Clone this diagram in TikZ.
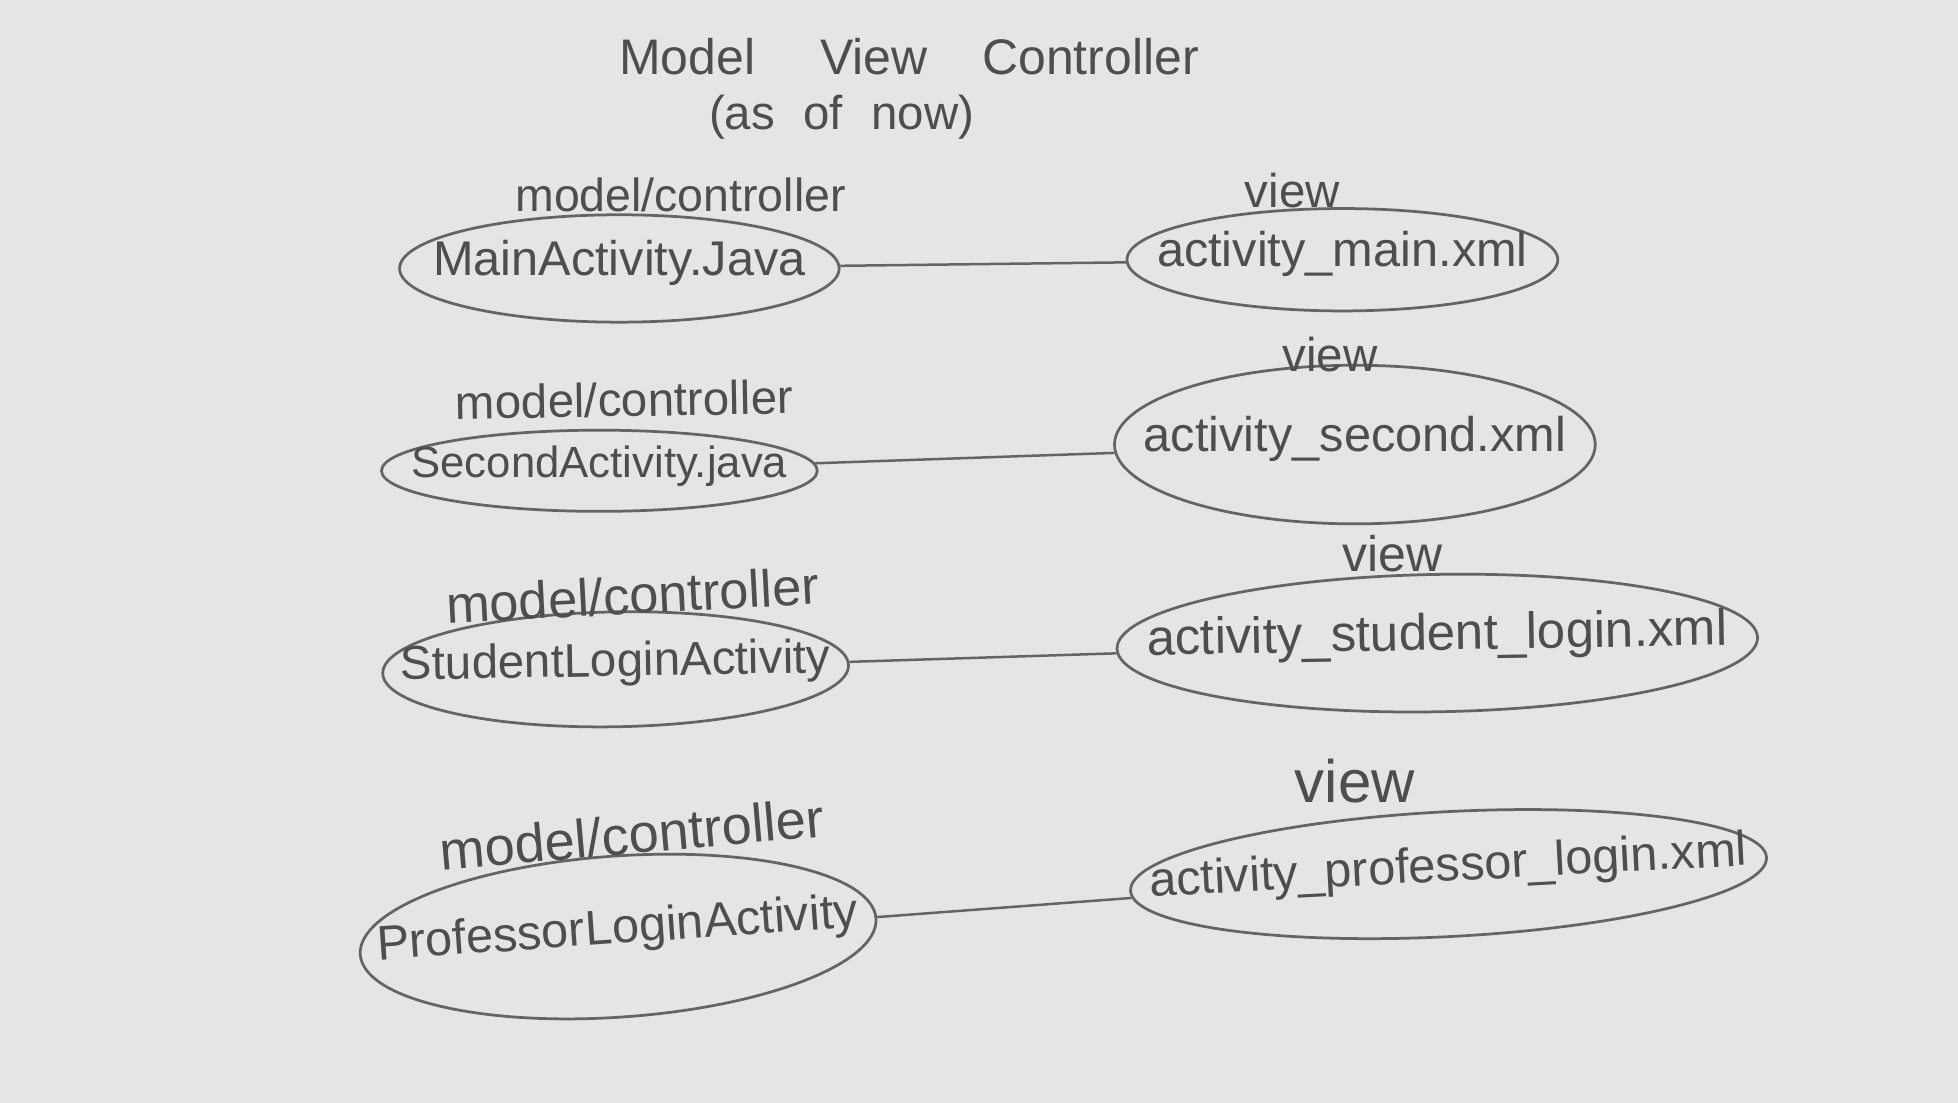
\documentclass[tikz,border=0pt]{standalone}
\usepackage{fontspec}
\setmainfont{Liberation Sans}
\usetikzlibrary{shapes.geometric}

\definecolor{paper}{RGB}{229,229,227}
\definecolor{pencil}{RGB}{100,100,100}
\definecolor{lead}{RGB}{78,78,78}

\tikzset{
  oval/.style={ellipse, draw=pencil, line width=1.1pt, inner sep=0pt},
  hand/.style={text=lead, inner sep=0pt, text height=0.75em, text depth=0.2em,
    font=\fontsize{#1}{#1}\selectfont},
  link/.style={draw=pencil, line width=1pt},
}

\begin{document}
\begin{tikzpicture}[x=0.5pt,y=-0.5pt]

  % sheet of paper
  \path[fill=paper, use as bounding box] (0,0) rectangle (1568,883);

  % title
  \node[hand=20] (title) at (728,54) {Model\hspace{1.3em}View\hspace{1.1em}Controller};
  \node[hand=19] (asofnow) at (674,98) {(as\hspace{0.6em}of\hspace{0.6em}now)};

  % model/controller side
  \node[oval, hand=19.5, minimum width=176pt, minimum height=43pt] (mainjava) at (496,215)
    {\makebox[0pt]{MainActivity.Java}};
  \node[oval, hand=17.5, minimum width=174.5pt, minimum height=32.5pt] (secondjava) at (480,377)
    {\makebox[0pt]{SecondActivity.java}};
  \node[oval, hand=19, minimum width=186.5pt, minimum height=46pt, rotate=1] (studentjava) at (493,536)
    {\makebox[0pt]{StudentLoginActivity}};
  \node[oval, hand=19.5, minimum width=207pt, minimum height=64.5pt, rotate=4] (profjava) at (495,750)
    {\makebox[0pt]{ProfessorLoginActivity}};

  % view side
  \node[oval, hand=19.5, minimum width=172.5pt, minimum height=41pt] (mainxml) at (1075,208)
    {\makebox[0pt]{activity\_main.xml}};
  \node[oval, hand=19.5, minimum width=192.5pt, minimum height=63.5pt] (secondxml) at (1085,356)
    {\makebox[0pt]{activity\_second.xml}};
  \node[oval, hand=20.4, minimum width=256.5pt, minimum height=55pt, rotate=1] (studentxml) at (1151,515)
    {\makebox[0pt]{activity\_student\_login.xml}};
  \node[oval, hand=19.5, minimum width=255pt, minimum height=50pt, rotate=3] (profxml) at (1160,700)
    {\makebox[0pt]{activity\_professor\_login.xml}};

  % labels over the ovals
  \node[hand=18.6] (mcmain) at (545,164) {model/controller};
  \node[hand=19, rotate=1] (mcsecond) at (500,328) {model/controller};
  \node[hand=21, rotate=3] (mcstudent) at (507,486) {model/controller};
  \node[hand=21.7, rotate=5] (mcprof) at (507,678) {model/controller};

  \node[hand=19] (vmain) at (1035,161) {view};
  \node[hand=19] (vsecond) at (1065,292) {view};
  \node[hand=20] (vstudent) at (1115,452) {view};
  \node[hand=24] (vprof) at (1085,637) {view};

  % connectors
  \draw[link] (mainjava) -- (mainxml);
  \draw[link] (secondjava) -- (secondxml);
  \draw[link] (studentjava) -- (studentxml);
  \draw[link] (profjava) -- (profxml);

\end{tikzpicture}
\end{document}
